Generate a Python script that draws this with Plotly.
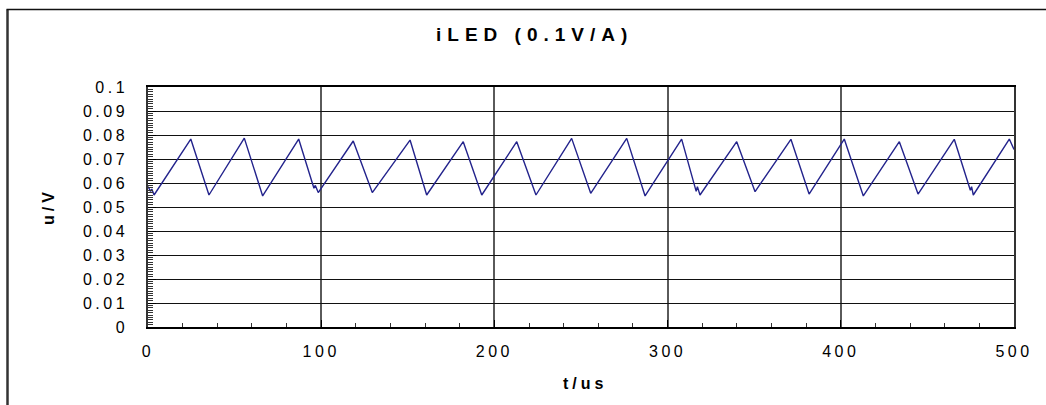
import plotly.graph_objects as go

# ---- data ----
t_us = [0, 1.5, 2.2, 3.5, 24.7, 35.2, 55.6, 66.2, 87.0, 95.8, 96.6, 98.3,
        118.5, 129.5, 151.3, 160.9, 182.0, 192.7, 212.9, 224.0, 244.6, 255.6,
        276.4, 287.0, 308.1, 316.5, 317.2, 318.7, 339.9, 350.5, 371.2, 381.7,
        402.0, 413.0, 433.8, 444.6, 465.5, 474.8, 475.5, 476.5, 497.3, 500]
u_v = [0.0585, 0.0565, 0.0575, 0.0550, 0.0783, 0.0550, 0.0787, 0.0546, 0.0783,
       0.0578, 0.0590, 0.0560, 0.0775, 0.0560, 0.0779, 0.0550, 0.0772, 0.0550,
       0.0772, 0.0550, 0.0786, 0.0557, 0.0786, 0.0546, 0.0783, 0.0565, 0.0585,
       0.0550, 0.0772, 0.0564, 0.0782, 0.0554, 0.0783, 0.0546, 0.0772, 0.0554,
       0.0782, 0.0570, 0.0585, 0.0550, 0.0783, 0.0740]

y_tickvals = [0, 0.01, 0.02, 0.03, 0.04, 0.05, 0.06, 0.07, 0.08, 0.09, 0.1]
y_ticktext = ["0", "0.01", "0.02", "0.03", "0.04", "0.05", "0.06", "0.07", "0.08", "0.09", "0.1"]
x_tickvals = [0, 100, 200, 300, 400, 500]
x_ticktext = ["0", "100", "200", "300", "400", "500"]

title_text = "iLED (0.1V/A)"
x_title = "t/us"
y_title = "u/V"

FONT = "Liberation Sans, Arial, sans-serif"

fig = go.Figure()
fig.add_trace(go.Scatter(x=t_us, y=u_v, mode="lines",
                         line=dict(color="#23238C", width=1.4),
                         showlegend=False, hoverinfo="skip"))

L, R, T, B = 148, 32, 87, 78
W, H = 1046, 405
pw, ph = W - L - R, H - T - B

def px(x):
    return (x - L) / pw

def py(y):
    return (H - B - y) / ph

fig.update_layout(
    width=W, height=H, autosize=False,
    margin=dict(l=L, r=R, t=T, b=B),
    paper_bgcolor="white", plot_bgcolor="white",
    font=dict(family=FONT, color="black"),
    xaxis=dict(range=[0, 500], tickvals=x_tickvals, ticktext=x_ticktext,
               showgrid=True, gridcolor="#5a5a5a", gridwidth=1.5,
               showline=True, linecolor="black", linewidth=1.5, mirror=True,
               ticks="inside", ticklen=7, tickcolor="black",
               minor=dict(dtick=20, ticks="inside", ticklen=4, tickcolor="#333", showgrid=False),
               tickfont=dict(size=16, family=FONT), ticklabelstandoff=9,
               zeroline=False),
    yaxis=dict(range=[0, 0.1], tickvals=y_tickvals, ticktext=y_ticktext,
               showgrid=True, gridcolor="#111", gridwidth=1,
               showline=True, linecolor="#333", linewidth=1.5, mirror=True,
               ticks="inside", ticklen=8, tickcolor="black",
               minor=dict(dtick=0.001, ticks="inside", ticklen=5, tickcolor="#333", showgrid=False),
               tickfont=dict(size=16, family=FONT), ticklabelstandoff=15,
               zeroline=False),
)

fig.add_annotation(text="<b>%s</b>" % title_text, xref="paper", yref="paper",
                   x=px(534), y=py(34.3), xanchor="center", yanchor="middle",
                   showarrow=False, font=dict(size=19, family=FONT, color="black"))
fig.add_annotation(text="<b>%s</b>" % x_title, xref="paper", yref="paper",
                   x=px(585), y=py(383), xanchor="center", yanchor="middle",
                   showarrow=False, font=dict(size=16, family=FONT, color="black"))
fig.add_annotation(text="<b>%s</b>" % y_title, xref="paper", yref="paper",
                   x=px(48), y=py(207), xanchor="center", yanchor="middle",
                   textangle=-90, showarrow=False,
                   font=dict(size=16, family=FONT, color="black"))

# outer frame (left and top edges)
fig.add_shape(type="line", xref="paper", yref="paper",
              x0=px(7.5), x1=px(7.5), y0=py(9.5), y1=py(420),
              line=dict(color="#333", width=2.5))
fig.add_shape(type="line", xref="paper", yref="paper",
              x0=px(6.5), x1=px(1060), y0=py(9.5), y1=py(9.5),
              line=dict(color="#111", width=1.5))

post = """
document.body.style.margin = '0';
document.body.style.overflow = 'hidden';
var gd = document.getElementById('{plot_id}');
gd.querySelectorAll('.xtick text, .ytick text').forEach(function(t){ t.style.letterSpacing='3.5px'; });
gd.querySelectorAll('.annotation-text').forEach(function(t){ t.style.letterSpacing='4px'; });
var ttl = gd.querySelectorAll('.annotation-text')[0];
if (ttl) { ttl.style.letterSpacing = '6px'; }
"""
fig.write_html("out.html", post_script=post, config={"displayModeBar": False})
